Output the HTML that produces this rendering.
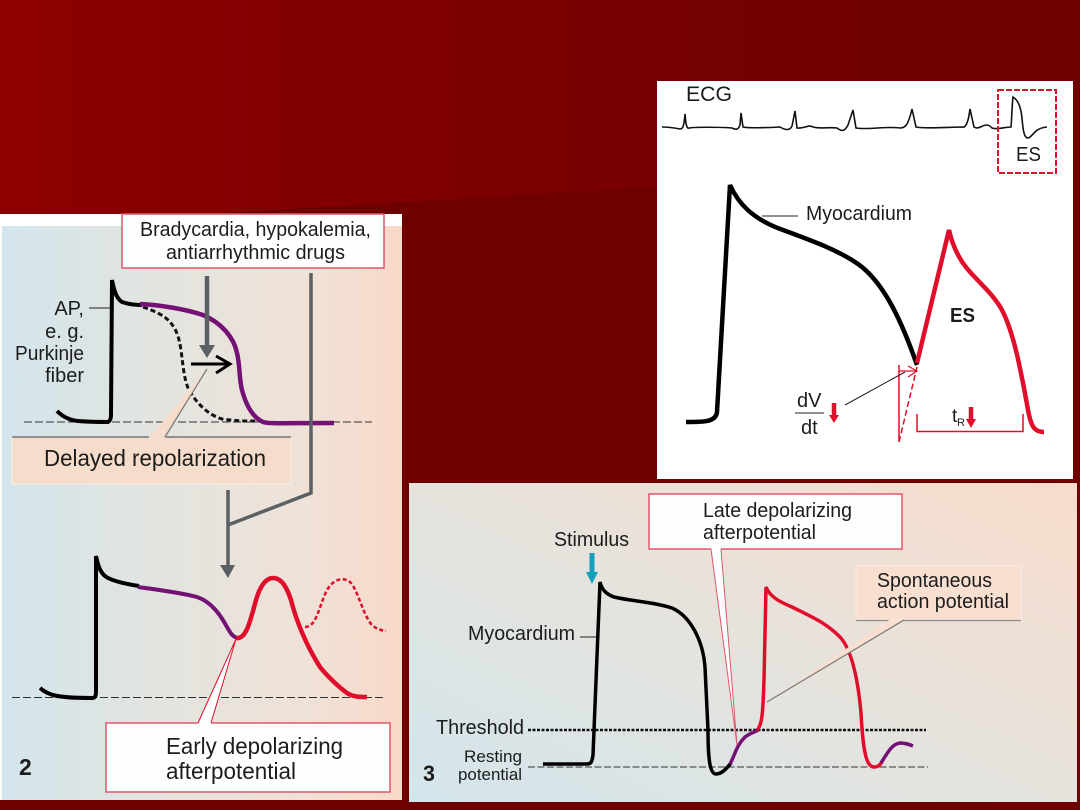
<!DOCTYPE html>
<html><head><meta charset="utf-8"><style>
html,body{margin:0;padding:0;background:#6e0000}
svg{display:block;filter:blur(.35px)}
text{font-family:"Liberation Sans",sans-serif;fill:#1c1c1c}
</style></head><body>
<svg width="1080" height="810" viewBox="0 0 1080 810" xmlns="http://www.w3.org/2000/svg">
<defs>
<linearGradient id="bg" gradientUnits="userSpaceOnUse" x1="0" y1="100" x2="900" y2="100"><stop offset="0" stop-color="#8d0000"/><stop offset="1" stop-color="#6e0000"/></linearGradient>
<linearGradient id="p2" x1="0" y1="0" x2="1" y2="0"><stop offset="0" stop-color="#d3e5ec"/><stop offset=".4" stop-color="#e3e4df"/><stop offset=".75" stop-color="#efe2d8"/><stop offset="1" stop-color="#f8d9c8"/></linearGradient>
<linearGradient id="p3" x1="0" y1="1" x2="1" y2="0"><stop offset="0" stop-color="#d3e5ec"/><stop offset=".5" stop-color="#e6e3dd"/><stop offset="1" stop-color="#f8dccc"/></linearGradient>
</defs>
<rect width="1080" height="810" fill="#6e0000"/>
<path d="M0 0H1080V0L1080 0V186L655 187L205 214H0Z" fill="url(#bg)"/>
<!-- Panel 2 -->
<rect x="0" y="214" width="402" height="586" fill="#fff"/>
<rect x="2" y="226" width="400" height="574" fill="url(#p2)"/>
<path d="M24 422H372" stroke="#333" stroke-width="1" stroke-dasharray="8 3" fill="none"/>
<rect x="122" y="214" width="262" height="54" fill="#fdffff" stroke="#e0566a" stroke-width="1.5"/>
<text x="140" y="236" font-size="20" textLength="231" lengthAdjust="spacingAndGlyphs">Bradycardia, hypokalemia,</text>
<text x="166" y="259" font-size="20" textLength="179" lengthAdjust="spacingAndGlyphs">antiarrhythmic drugs</text>
<text x="84" y="315" font-size="20" text-anchor="end">AP,</text>
<text x="84" y="338" font-size="20" text-anchor="end">e. g.</text>
<text x="15" y="360" font-size="20" textLength="69" lengthAdjust="spacingAndGlyphs">Purkinje</text>
<text x="84" y="382" font-size="20" text-anchor="end">fiber</text>
<path d="M89 308H110" stroke="#222" stroke-width="1"/>
<path d="M143 307C155 311 165 316 170 322C177 330 179 338 181 350C183 365 184 378 188 388C193 398 205 414 222 419C235 421 245 421 258 421" fill="none" stroke="#111" stroke-width="3" stroke-dasharray="5 3"/>
<path d="M57 411C62 416 68 420 78 421C90 422 100 422 108 422C110 421 111 419 111 415L112 280C114 290 116 298 122 302C128 304 134 305 142 305" fill="none" stroke="#000" stroke-width="4"/>
<path d="M140 304C160 305 185 309 203 315C222 323 234 338 237 353C240 365 239 378 242 390C246 405 252 417 263 422C270 424 280 423 334 423" fill="none" stroke="#741175" stroke-width="4.5"/>
<path d="M207 276V345" stroke="#5a6064" stroke-width="4.5"/><path d="M199 345H215L207 358Z" fill="#5a6064"/>
<path d="M191 364H228M216 356L230 364L216 373" fill="none" stroke="#000" stroke-width="3"/>
<path d="M311 273V493L228 525M228 490V566" fill="none" stroke="#5a6064" stroke-width="3.500"/>
<path d="M220 565H235L228 578Z" fill="#5a6064"/>
<rect x="12" y="437" width="279" height="47" fill="#f6dccb" stroke="#fbefe6" stroke-width="1"/>
<path d="M12 437H149M165 437H291" stroke="#777" stroke-width="1.5"/>
<path d="M207 369L149 438H165Z" fill="#f6dccb"/><path d="M207 369L165 437" stroke="#777" stroke-width="1.2"/>
<text x="44" y="466" font-size="23" textLength="222" lengthAdjust="spacingAndGlyphs">Delayed repolarization</text>
<path d="M12 697.5H385" stroke="#333" stroke-width="1" stroke-dasharray="8 3" fill="none"/>
<path d="M40 688C48 695 56 698 92 698C95 698 96 696 96 692L96 556C98 565 100 574 108 578C116 582 126 584 139 586" fill="none" stroke="#000" stroke-width="4"/>
<path d="M138 587C160 590 182 593 197 597C212 602 221 616 227 627C230 632 232 637 238 638" fill="none" stroke="#741175" stroke-width="4"/>
<path d="M236 638C246 640 250 622 256 600C260 586 266 578 273 578C282 578 287 588 291 600C296 620 306 645 320 667C328 677 340 688 347 693C353 697 360 697 367 697" fill="none" stroke="#e00d2b" stroke-width="4.500"/>
<path d="M305 627C316 627 318 610 326 592C332 580 342 576 350 582C358 590 362 612 371 624C376 629 380 630 386 631" fill="none" stroke="#e00d2b" stroke-width="2.5" stroke-dasharray="4 2.5"/>
<rect x="106" y="723" width="284" height="69" fill="#fdffff" stroke="#e0566a" stroke-width="1.5"/>
<path d="M198 724L236 639L211 724Z" fill="#fdffff"/><path d="M198 723L236 639L211 723" fill="none" stroke="#e00d2b" stroke-width="1"/>
<text x="166" y="754" font-size="23" textLength="177" lengthAdjust="spacingAndGlyphs">Early depolarizing</text>
<text x="166" y="779" font-size="23" textLength="130" lengthAdjust="spacingAndGlyphs">afterpotential</text>
<text x="19" y="775" font-size="23" font-weight="bold">2</text>
<!-- Panel 1 -->
<rect x="657" y="81" width="416" height="398" fill="#fff"/>
<text x="686" y="101" font-size="21" textLength="46" lengthAdjust="spacingAndGlyphs">ECG</text>
<path d="M662 127C670 127 675 128 680 129C683 129 684 126 685 114C686 126 687 129 689 128C695 127 720 127 732 128C736 130 738 130 740 125L741 113L743 127C746 128 765 128 780 127C785 130 790 131 792 126L795 111L797 128C805 129 808 124 813 127C820 129 828 127 837 128C842 132 845 131 848 125L853 110L856 128C870 130 885 126 900 128C905 128 908 126 912 109L916 127C925 129 950 127 962 127C965 128 968 125 970 109L974 127C980 131 985 120 992 128C996 130 1005 127 1011 127C1012 115 1012 105 1013 97C1018 100 1021 108 1022 118C1023 130 1024 138 1028 138C1033 137 1034 128 1047 127" fill="none" stroke="#111" stroke-width="1.600"/>
<rect x="998" y="90" width="58" height="83" fill="none" stroke="#e00d2b" stroke-width="2" stroke-dasharray="6 2"/>
<text x="1016" y="161" font-size="20" textLength="25" lengthAdjust="spacingAndGlyphs">ES</text>
<path d="M686 422C700 422 716 423 717 412L730 185C738 203 752 219 783 230C810 240 838 250 858 264C885 283 903 325 917 365" fill="none" stroke="#000" stroke-width="4.500"/>
<path d="M917 363L949 230C953 248 960 261 970 272C982 285 991 293 999 305C1012 325 1020 365 1028 410C1031 426 1034 432 1044 432" fill="none" stroke="#e00d2b" stroke-width="4.500"/>
<path d="M762 216H798" stroke="#222" stroke-width="1"/>
<text x="806" y="220" font-size="20" textLength="106" lengthAdjust="spacingAndGlyphs">Myocardium</text>
<text x="950" y="322" font-size="20" font-weight="bold" fill="#111" textLength="25" lengthAdjust="spacingAndGlyphs">ES</text>
<path d="M899 365V442" stroke="#e00d2b" stroke-width="1.5"/>
<path d="M899 442L917 367" stroke="#e00d2b" stroke-width="1.5" stroke-dasharray="6 3"/>
<path d="M899 371H916M908 366L917 371L908 377" fill="none" stroke="#e00d2b" stroke-width="1.2"/>
<path d="M845 405L905 372" stroke="#222" stroke-width="1"/>
<text x="797" y="407" font-size="20">dV</text>
<path d="M795 413H824" stroke="#222" stroke-width="1"/>
<text x="801" y="434" font-size="20">dt</text>
<path d="M834 403V417" stroke="#e00d2b" stroke-width="4.5"/><path d="M829 415H839L834 423Z" fill="#e00d2b"/>
<path d="M917 414V431.500H1023V414" fill="none" stroke="#e00d2b" stroke-width="1.5"/>
<text x="952" y="422" font-size="19">t</text><text x="957" y="426" font-size="11">R</text>
<path d="M971 407V420" stroke="#e00d2b" stroke-width="4.5"/><path d="M966 419H976L971 428Z" fill="#e00d2b"/>
<!-- Panel 3 -->
<rect x="409" y="483" width="668" height="319" fill="url(#p3)"/>
<path d="M528 730H926" stroke="#111" stroke-width="2.5" stroke-dasharray="3 1.5"/>
<path d="M528 767H928" stroke="#333" stroke-width="1" stroke-dasharray="7 2.5"/>
<path d="M543 764H587C591 764 592 762 593 755L600 582C602 590 606 594 614 597C630 601 655 602 672 608C690 616 703 640 705 667L708 730C708 760 710 774 716 774C722 774 727 768 731 763" fill="none" stroke="#000" stroke-width="3.500"/>
<path d="M730 764C735 755 736 746 745 737C750 733 755 732 758 730" fill="none" stroke="#741175" stroke-width="3.500"/>
<path d="M757 730C763 725 763 705 764 680L766 587C770 597 780 602 792 607C810 616 825 622 840 637C852 650 858 680 861 713C863 750 866 767 874 767C878 767 880 765 882 762" fill="none" stroke="#e00d2b" stroke-width="3.500"/>
<path d="M881 763C888 752 892 744 900 743C905 743 908 744 913 746" fill="none" stroke="#741175" stroke-width="3.500"/>
<path d="M580 637H596" stroke="#222" stroke-width="1"/>
<path d="M592 553V575" stroke="#16a0bd" stroke-width="5"/><path d="M586 572H598L592 584Z" fill="#16a0bd"/>
<text x="554" y="546" font-size="20" textLength="75" lengthAdjust="spacingAndGlyphs">Stimulus</text>
<text x="468" y="640" font-size="20.5" textLength="107" lengthAdjust="spacingAndGlyphs">Myocardium</text>
<text x="436" y="734" font-size="20.5" textLength="88" lengthAdjust="spacingAndGlyphs">Threshold</text>
<text x="464" y="762" font-size="17" textLength="58" lengthAdjust="spacingAndGlyphs">Resting</text>
<text x="458" y="780" font-size="17" textLength="64" lengthAdjust="spacingAndGlyphs">potential</text>
<text x="423" y="781" font-size="22" font-weight="bold" textLength="12" lengthAdjust="spacingAndGlyphs">3</text>
<rect x="649" y="494" width="253" height="55" fill="#fdffff" stroke="#e0566a" stroke-width="1.5"/>
<path d="M711 548L736 742L721 548Z" fill="#fdffff"/><path d="M711 549L737 745L721 549" fill="none" stroke="#e0566a" stroke-width="1"/>
<text x="703" y="517" font-size="20.5" textLength="149" lengthAdjust="spacingAndGlyphs">Late depolarizing</text>
<text x="703" y="539" font-size="20.5" textLength="113" lengthAdjust="spacingAndGlyphs">afterpotential</text>
<rect x="856" y="566" width="165" height="54" fill="#f8dfcf" stroke="#fbeee4" stroke-width="1"/>
<path d="M856 620.500H889M904 620.500H1021" stroke="#888" stroke-width="1.2"/>
<path d="M889 620L767 702L904 620Z" fill="#f8dfcf"/><path d="M904 620L767 702" stroke="#777" stroke-width="1.2"/>
<text x="877" y="587" font-size="20" textLength="115" lengthAdjust="spacingAndGlyphs">Spontaneous</text>
<text x="877" y="608" font-size="20" textLength="132" lengthAdjust="spacingAndGlyphs">action potential</text>
</svg>
</body></html>
